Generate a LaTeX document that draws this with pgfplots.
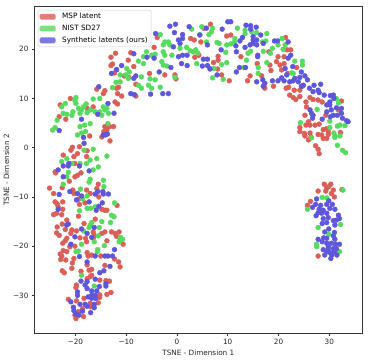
\documentclass[border=0pt]{standalone}
\usepackage{fontspec}
\setmainfont{DejaVu Sans}
\usepackage{pgfplots}
\usepackage{pgfplotstable}
\pgfplotsset{compat=1.18}
\definecolor{msp}{HTML}{DB5F57}
\definecolor{nist}{HTML}{57DB5F}
\definecolor{synth}{HTML}{5F57DB}

\pgfplotstableread{
x y
-12.1 19.2
-13.0 18.4
-9.1 19.3
-9.6 17.8
-13.0 16.7
-12.7 17.0
-8.5 16.5
-11.9 15.8
-12.3 15.2
-10.4 14.6
-9.5 14.3
-11.5 12.3
-11.9 12.1
-14.2 11.6
-15.8 11.9
-14.5 11.0
-11.7 11.0
-10.9 10.5
-12.2 9.3
-11.7 8.9
-21.0 10.0
-23.0 8.7
-17.7 8.0
-23.2 6.3
-21.9 5.8
-14.2 4.3
-13.3 4.3
-13.8 3.6
-12.5 4.3
-14.4 3.3
-14.8 2.2
-13.2 1.4
-17.2 2.4
-20.6 0.1
-20.9 -0.5
-19.2 0.2
-22.4 -1.5
-20.3 -1.8
-19.6 -1.2
-17.7 -0.6
-20.1 -3.2
-17.8 -1.8
-24.0 -4.9
-23.9 -5.1
-18.9 -5.1
-19.6 -5.6
-20.1 -5.9
-8.1 10.5
-3.9 22.4
-4.5 20.4
-8.1 12.9
-2.4 14.8
-0.4 14.8
-0.2 14.0
-5.4 15.1
-16.5 8.3
6.6 25.1
5.3 24.3
2.7 22.2
3.4 21.9
4.7 21.5
9.8 22.7
10.6 22.9
12.6 18.5
8.1 18.6
8.1 17.8
7.2 17.3
8.0 16.0
3.5 18.4
8.8 14.8
10.3 13.6
13.9 13.6
14.4 14.6
15.8 17.1
16.7 14.6
18.5 15.7
18.3 16.8
19.6 17.5
20.3 16.8
19.9 18.5
21.1 18.5
21.1 17.1
20.6 15.8
21.7 19.9
22.4 19.9
18.1 19.5
21.4 22.4
21.8 15.1
23.6 16.3
19.0 12.5
17.3 12.1
21.5 12.1
22.0 12.3
23.1 11.7
24.2 11.7
24.7 12.5
22.2 10.7
22.9 10.2
23.4 9.8
24.2 10.4
26.2 10.2
26.8 9.8
27.8 9.7
28.6 9.3
25.4 9.3
25.5 8.3
25.2 6.6
32.4 9.5
31.8 7.7
29.3 6.6
25.9 5.3
25.4 4.6
26.2 4.6
27.2 4.6
28.0 4.8
24.2 4.1
24.2 3.3
25.1 2.9
26.2 3.0
25.2 2.4
25.9 1.6
27.8 2.7
28.5 2.6
28.8 3.7
29.5 3.9
29.8 3.3
28.8 1.9
29.5 1.9
29.8 2.7
26.4 2.2
32.2 3.1
27.3 0.4
27.8 -0.3
28.0 -1.2
4.3 18.8
-25.1 -8.2
-24.3 -9.3
-22.6 -8.1
-21.2 -6.8
-20.5 -8.6
-20.3 -9.3
-17.8 -8.6
-17.1 -9.3
-15.5 -7.4
-15.4 -10.0
-15.8 -8.3
-24.0 -11.0
-23.6 -11.4
-23.4 -12.0
-22.5 -11.0
-19.3 -10.4
-19.2 -11.5
-18.1 -11.2
-24.3 -13.6
-23.7 -13.3
-22.7 -13.6
-22.5 -12.5
-19.4 -13.9
-14.8 -12.5
-14.2 -12.7
-13.8 -12.7
-11.8 -11.7
-16.1 -14.5
-21.7 -14.7
-22.6 -15.5
-23.6 -16.1
-23.7 -17.3
-23.2 -17.8
-22.0 -16.6
-20.7 -16.7
-19.8 -16.9
-20.9 -17.4
-18.3 -15.4
-19.1 -18.3
-18.0 -18.4
-17.8 -19.1
-16.5 -17.1
-16.3 -17.8
-16.5 -18.4
-14.8 -17.4
-14.2 -17.1
-12.9 -17.1
-12.2 -17.4
-11.4 -17.1
-11.9 -18.0
-11.2 -18.8
-10.6 -19.6
-13.8 -18.9
-21.7 -18.4
-22.0 -18.9
-22.5 -19.4
-21.1 -20.1
-20.1 -20.0
-22.4 -20.9
-21.7 -21.1
-23.0 -21.6
-22.9 -22.7
-21.9 -22.8
-22.7 -22.0
-20.3 -22.5
-20.6 -23.4
-17.7 -21.3
-17.5 -22.0
-16.8 -21.8
-15.0 -22.0
-12.3 -22.6
-11.5 -23.2
-11.2 -24.2
-14.2 -23.9
-20.7 -24.5
-22.6 -25.0
-22.2 -25.4
-18.9 -25.1
-17.7 -23.8
-17.3 -24.9
-16.8 -24.7
-17.7 -26.6
-17.1 -26.2
-16.8 -25.9
-15.2 -26.9
-14.0 -27.0
-13.3 -27.1
-19.8 -27.9
-19.9 -28.4
-13.8 -29.8
-13.0 -29.4
-15.2 -29.9
-15.2 -30.4
-15.5 -31.5
-21.4 -30.8
-19.8 -31.1
-18.3 -30.6
-16.3 -30.4
-17.1 -31.6
-18.4 -34.3
-19.9 -34.7
-19.4 -33.3
-18.6 -32.7
-17.0 -32.3
-20.1 -34.0
29.0 -7.4
30.3 -7.4
29.9 -7.9
29.5 -8.2
30.8 -8.6
29.3 -8.8
27.8 -8.8
30.4 -9.3
31.0 -10.0
26.3 -10.9
25.7 -11.7
27.8 -22.0
32.5 -8.5
}\msptable

\pgfplotstableread{
x y
-24.5 3.6
-24.0 4.1
-23.6 5.6
-22.4 7.0
-21.7 6.8
-20.7 6.6
-22.7 8.3
-22.0 9.0
-19.9 10.2
-20.1 9.6
-19.9 9.0
-20.5 7.3
-19.4 8.0
-19.1 7.0
-18.8 7.7
-18.4 8.3
-17.9 8.9
-17.7 7.1
-16.5 9.9
-15.2 10.0
-17.0 7.7
-16.1 7.3
-15.2 7.3
-14.5 8.3
-13.8 8.0
-13.5 7.0
-14.2 7.7
-14.8 6.6
-19.1 4.3
-18.2 4.6
-17.1 4.9
-13.6 4.9
-19.6 2.6
-18.8 3.0
-18.0 3.3
-12.7 12.2
-12.0 13.3
-11.2 13.4
-9.9 16.1
-9.4 15.4
-10.1 14.8
-9.6 14.1
-11.2 14.8
-7.6 17.6
-6.6 18.5
-6.0 19.5
-6.6 17.1
-5.0 18.8
-4.3 19.0
-3.3 23.0
-2.4 21.5
-1.7 21.5
-2.7 20.9
-2.7 19.5
-2.4 18.8
-1.0 18.8
-1.4 20.9
-3.0 17.5
-2.7 16.8
-2.0 16.6
-0.4 14.3
0.6 20.2
-3.3 12.3
-5.3 14.0
-4.3 13.8
-7.0 14.4
-7.6 12.7
-7.0 12.1
-5.6 12.7
-5.0 12.1
-21.7 -2.2
-20.7 -3.2
-22.7 -2.8
-19.1 -3.2
-17.8 -3.2
-17.1 -2.5
-15.8 -2.2
-15.5 -3.9
-16.5 -4.5
-21.4 -5.0
-21.7 -5.9
-17.1 -6.4
-13.8 -1.7
-18.3 -0.5
-16.5 -0.3
4.9 24.6
7.0 24.3
6.8 23.6
6.3 23.0
4.5 23.0
2.9 24.1
5.8 21.5
7.9 21.4
8.3 21.2
11.9 24.3
13.4 23.9
13.4 23.2
14.7 23.6
15.7 23.4
17.7 23.2
11.4 22.2
11.3 21.5
10.6 21.1
9.8 20.9
16.8 21.5
17.5 21.7
9.6 19.4
14.0 19.2
14.5 19.6
13.7 17.8
17.0 19.6
18.4 19.2
18.8 20.2
19.9 20.9
20.7 22.2
21.3 20.9
20.9 20.0
1.9 20.4
2.6 19.7
3.7 19.9
4.1 19.2
3.2 19.5
3.9 17.1
6.5 16.1
7.3 16.1
8.8 16.9
9.8 17.3
7.0 14.2
9.1 13.9
13.1 16.3
16.0 16.3
16.0 15.1
17.7 17.3
23.2 17.6
24.7 17.6
24.7 16.8
22.6 15.2
22.9 15.1
27.6 7.8
31.4 10.0
31.8 9.1
24.3 5.1
30.1 5.4
30.1 4.1
31.6 4.4
32.1 4.6
33.1 4.5
30.9 3.0
31.1 2.4
31.1 2.1
32.1 2.4
26.5 2.0
31.6 0.5
32.6 -0.5
33.2 -1.0
-22.4 -7.4
-19.0 -8.4
-17.3 -7.0
-14.5 -6.6
-14.4 -7.9
-18.6 -10.4
-17.7 -9.8
-12.3 -11.2
-19.2 -12.8
-17.7 -12.3
-17.0 -12.3
-16.1 -12.0
-12.9 -13.7
-12.4 -14.0
-13.1 -15.2
-14.8 -15.0
-16.8 -15.2
-17.1 -15.7
-17.3 -16.2
-15.3 -16.2
-18.4 -16.9
-15.5 -17.9
-16.3 -19.1
-11.1 -18.2
-10.7 -18.6
-11.4 -19.1
-18.8 -19.6
-14.3 -19.9
-15.6 -20.7
-15.7 -21.1
-19.9 -21.1
-19.4 -21.0
-18.8 -25.9
-16.3 -28.1
28.6 -10.1
29.5 -10.2
32.7 -8.6
25.7 -12.5
32.2 -15.6
27.8 -16.2
29.9 -17.6
27.5 -19.6
27.5 -20.1
32.0 -21.1
}\nisttable

\pgfplotstableread{
x y
-0.3 25.1
-1.4 24.7
-4.2 23.2
-0.5 23.4
1.1 23.0
0.3 21.9
1.1 22.2
0.6 21.2
-0.7 20.5
1.1 18.8
0.3 18.5
0.9 17.1
-1.2 16.3
-3.5 15.4
-4.5 18.2
-5.9 18.4
-8.5 19.1
-10.9 16.7
-11.9 15.9
-12.9 15.1
-8.5 14.1
-8.1 14.6
-9.1 11.0
-8.4 10.8
-5.2 10.9
-2.8 11.0
-1.7 11.0
-15.4 12.4
-13.6 9.0
-12.4 7.0
-15.6 6.8
-18.8 5.8
-23.2 3.5
-18.4 2.1
-18.3 0.9
-14.1 2.6
-13.7 2.8
-14.5 2.6
-21.3 -3.2
-22.4 -3.7
-23.4 -4.5
-21.4 -3.7
-19.2 -3.7
-17.3 -4.7
-22.4 -5.9
10.0 25.6
10.6 25.6
2.4 24.6
5.8 24.3
4.5 22.9
8.9 24.1
13.6 24.9
14.5 24.8
14.5 24.1
15.6 24.5
15.0 22.6
16.5 22.9
12.9 22.4
12.4 21.7
15.0 21.9
15.7 21.9
15.0 21.2
15.7 20.9
14.4 20.9
11.6 20.7
13.4 20.4
11.7 19.5
17.0 21.2
19.2 21.7
19.8 21.7
21.9 21.5
15.9 18.8
15.9 18.5
8.7 19.9
6.0 20.9
2.0 18.8
5.2 18.0
6.0 18.0
2.0 16.7
5.0 16.6
6.0 16.7
6.5 16.0
12.3 16.3
13.5 16.3
11.7 15.4
7.9 14.8
15.7 13.4
16.9 13.8
17.3 13.1
17.0 12.5
18.8 13.6
19.9 13.6
20.6 14.2
21.1 13.6
21.6 14.8
22.2 13.4
22.9 13.6
23.2 14.1
24.2 14.3
23.9 13.4
24.5 12.5
24.9 12.7
24.5 15.4
25.2 14.6
25.7 13.8
22.8 16.5
22.4 18.8
21.9 18.2
21.3 16.1
26.1 12.1
27.0 12.7
26.8 11.4
27.8 11.7
28.0 11.2
28.3 12.9
29.0 10.7
30.2 10.6
30.8 10.7
30.9 10.0
30.1 9.3
29.5 8.7
30.1 8.7
26.2 7.7
26.5 7.0
26.8 6.6
26.7 6.0
29.5 7.3
30.4 7.7
31.4 8.1
32.4 8.0
30.8 6.6
31.6 6.6
32.4 7.0
32.6 6.0
33.4 5.5
33.7 5.3
28.6 5.8
30.2 6.3
-23.2 -9.5
-21.1 -8.9
-19.6 -9.3
-18.8 -9.8
-16.1 -9.4
-15.6 -8.9
-14.6 -8.9
-14.5 -9.4
-13.5 -9.4
-19.8 -10.6
-17.3 -11.0
-14.7 -11.2
-15.4 -11.9
-15.9 -12.7
-23.4 -12.5
-21.7 -15.7
-21.4 -15.5
-18.8 -16.5
-17.7 -17.4
-16.8 -18.2
-16.3 -16.2
-20.1 -18.1
-20.9 -19.6
-12.3 -20.7
-19.2 -22.1
-16.1 -22.0
-14.2 -22.0
-13.6 -22.0
-12.7 -22.0
-17.7 -23.2
-13.2 -24.1
-14.4 -25.0
-15.2 -25.4
-16.1 -26.7
-18.9 -27.1
-17.7 -27.2
-18.1 -27.9
-17.7 -28.6
-14.0 -27.6
-14.0 -28.1
-15.3 -28.2
-19.6 -29.3
-19.6 -30.0
-16.8 -29.1
-15.8 -29.1
-16.1 -30.0
-17.5 -30.3
-16.8 -30.6
-16.0 -30.6
-19.1 -31.8
-20.9 -31.3
-18.1 -31.8
-20.4 -32.4
-20.3 -33.1
-19.9 -33.8
-18.6 -33.2
-17.7 -32.2
-16.3 -31.8
-16.3 -32.5
-17.0 -33.5
-19.3 -34.0
-16.8 -30.0
27.5 -10.4
29.9 -10.8
29.5 -11.5
30.6 -11.5
27.3 -11.5
28.3 -11.7
26.7 -12.1
28.0 -12.5
28.8 -12.7
30.1 -12.3
31.1 -12.5
27.8 -13.2
28.5 -13.3
29.5 -13.3
27.4 -13.8
28.8 -14.4
29.8 -14.2
30.8 -14.8
31.8 -13.7
32.0 -14.4
31.4 -14.7
28.6 -15.4
29.5 -15.2
31.1 -15.7
29.9 -16.5
29.1 -17.1
31.0 -17.2
30.8 -17.9
28.9 -18.3
27.8 -18.6
29.5 -18.4
31.1 -18.6
28.6 -19.1
29.5 -19.4
30.4 -19.4
31.2 -19.6
32.0 -19.6
28.8 -20.7
29.8 -20.5
30.8 -20.5
31.4 -20.5
29.5 -21.1
30.1 -21.3
31.0 -21.1
29.1 -21.8
30.3 -22.5
31.5 -21.8
29.8 -20.1
30.5 -21.8
}\synthtable

\begin{document}
\begin{tikzpicture}
\path[use as bounding box] (-34.3bp,-26.7bp) rectangle (336.7bp,333.3bp);
\begin{axis}[
    at={(0,0)}, anchor=south west,
    scale only axis,
    width=328bp, height=326.6bp,
    xmin=-28.1, xmax=36.5,
    ymin=-37.7, ymax=28.66,
    axis line style={line width=0.7bp, black!80},
    tick style={line width=0.6bp, black!80},
    tick align=outside,
    major tick length=2.4bp,
    xtick={-20,-10,0,10,20,30},
    xticklabels={−20,−10,0,10,20,30},
    ytick={-30,-20,-10,0,10,20},
    yticklabels={−30,−20,−10,0,10,20},
    xtick pos=bottom, ytick pos=left,
    ticklabel style={font=\fontsize{7.3}{9}\selectfont, text=black!85},
    label style={font=\fontsize{7.3}{9}\selectfont, text=black!85},
    xlabel={TSNE - Dimension 1},
    ylabel={TSNE - Dimension 2},
    xlabel style={at={(axis description cs:0.5,-0.04)}, anchor=north},
    ylabel style={at={(axis description cs:-0.066,0.5)}, anchor=south},
    legend style={
        at={(0.011,0.99)}, anchor=north west,
        font=\fontsize{7.3}{9}\selectfont,
        draw=black!20, fill=white, fill opacity=0.8, text opacity=1,
        rounded corners=1.5bp, line width=0.5bp,
        inner xsep=1.5bp, inner ysep=1bp,
        row sep=0.9bp,
        cells={anchor=west},
        /tikz/column 1/.style={column sep=4.5bp},
    },
    legend cell align=left,
    legend image code/.code={
        \fill[#1, draw=none] (0bp,-2.9bp) rectangle (16bp,2.9bp);
    },
]
\addplot[only marks, mark=*, mark size=2.45bp, msp, mark options={draw=none, fill=msp}] table[x=x,y=y] {\msptable};
\addplot[only marks, mark=*, mark size=2.45bp, nist, mark options={draw=none, fill=nist}] table[x=x,y=y] {\nisttable};
\addplot[only marks, mark=*, mark size=2.45bp, synth, mark options={draw=none, fill=synth}] table[x=x,y=y] {\synthtable};
\legend{MSP latent, NIST SD27, Synthetic latents (ours)}
\end{axis}
\end{tikzpicture}
\end{document}
